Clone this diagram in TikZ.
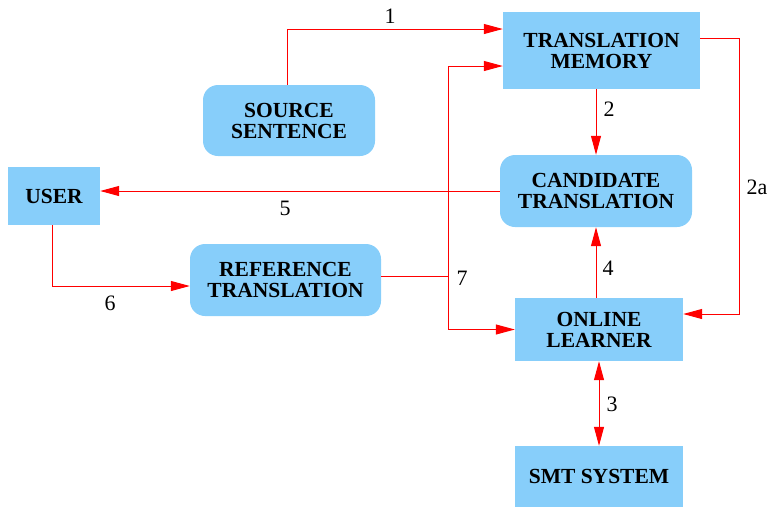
\documentclass[tikz,border=0pt]{standalone}
\usepackage{fontspec}
\setmainfont{Liberation Serif}
\usetikzlibrary{arrows.meta}
\definecolor{boxblue}{HTML}{87CEFA}
\tikzset{
  box/.style={fill=boxblue, draw=none, inner sep=0pt, align=center,
    font=\fontsize{21.5}{21}\selectfont\bfseries},
  rbox/.style={box, rounded corners=15pt},
  arr/.style={draw=red, line width=1pt, -{Triangle[length=19pt,width=10pt]}},
  darr/.style={draw=red, line width=1pt, {Triangle[length=19pt,width=10pt]}-{Triangle[length=19pt,width=10pt]}},
  ln/.style={draw=red, line width=1pt},
  lab/.style={font=\fontsize{22}{22}\selectfont, inner sep=0pt}
}
\begin{document}
\begin{tikzpicture}[x=1pt,y=-1pt]
\useasboundingbox (0,0) rectangle (770,507);
\node[box, minimum width=197pt, minimum height=77pt] (tm) at (601.5,50.5) {TRANSLATION\\MEMORY};
\node[rbox, minimum width=172pt, minimum height=71pt] (src) at (289,120.5) {SOURCE\\SENTENCE};
\node[rbox, minimum width=192pt, minimum height=72pt] (cand) at (596,191) {CANDIDATE\\TRANSLATION};
\node[box, minimum width=92pt, minimum height=58pt] (user) at (54,196) {USER};
\node[rbox, minimum width=191pt, minimum height=72pt] (ref) at (285.5,280) {REFERENCE\\TRANSLATION};
\node[box, minimum width=168pt, minimum height=63pt] (ol) at (599,329.5) {ONLINE\\LEARNER};
\node[box, minimum width=168pt, minimum height=61pt] (smt) at (599,476.5) {SMT SYSTEM};
\coordinate (v) at (448,276);
% 1
\draw[arr] ([xshift=-2pt]src.north) |- ([yshift=21.5pt]tm.west);
% 2
\draw[arr] (cand.north |- tm.south) -- (cand.north);
% 2a
\draw[arr] ([yshift=12.5pt]tm.east) -- ++(39,0) |- ([yshift=15.5pt]ol.east);
% 3
\draw[darr] (ol.south) -- (smt.north);
% 4
\draw[arr] (cand.south |- ol.north) -- (cand.south);
% 5
\draw[arr] (cand.west) -- (cand.west -| user.east);
% 6
\draw[arr] ([xshift=-2pt]user.south) |- ([yshift=-6pt]ref.west);
% 7
\draw[ln] ([yshift=4pt]ref.east) -- (v);
\draw[arr] (v) |- ([yshift=-15.5pt]tm.west);
\draw[arr] (v) |- (ol.west);
% labels
\node[lab] (l1) at (390,16) {1};
\node[lab] (l2) at (609,109) {2};
\node[lab] (l2a) at (757,187) {2a};
\node[lab] (l3) at (612,404) {3};
\node[lab] (l4) at (608,268) {4};
\node[lab] (l5) at (285,208) {5};
\node[lab] (l6) at (110,303) {6};
\node[lab] (l7) at (462,278) {7};
\end{tikzpicture}
\end{document}
